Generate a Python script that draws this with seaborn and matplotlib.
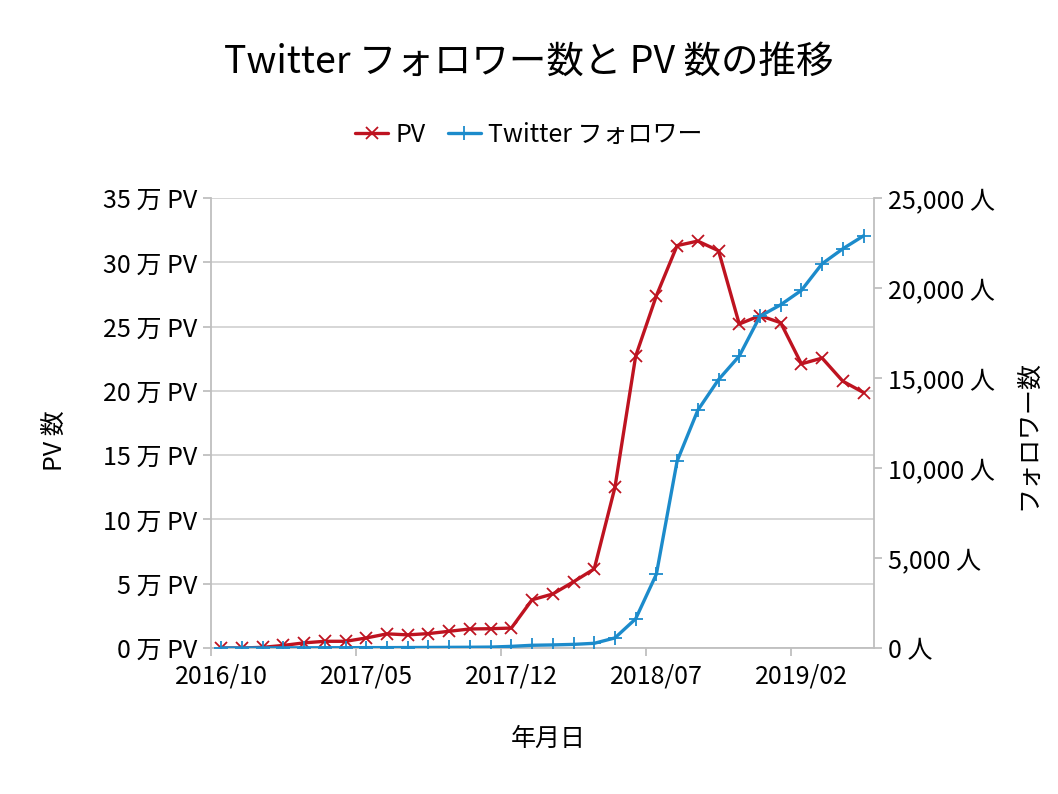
import matplotlib
matplotlib.use("Agg")
import matplotlib.pyplot as plt
import seaborn as sns
import numpy as np
from matplotlib.ticker import FixedLocator, FuncFormatter

sns.set_theme(style="white")
plt.rcParams['font.family'] = ['Noto Sans CJK JP', 'DejaVu Sans']
plt.rcParams['text.color'] = 'black'
plt.rcParams['axes.labelcolor'] = 'black'
plt.rcParams['xtick.color'] = 'black'
plt.rcParams['ytick.color'] = 'black'

# ---- data ----
months = ["2016/10", "2016/11", "2016/12", "2017/01", "2017/02", "2017/03", "2017/04",
          "2017/05", "2017/06", "2017/07", "2017/08", "2017/09", "2017/10", "2017/11",
          "2017/12", "2018/01", "2018/02", "2018/03", "2018/04", "2018/05", "2018/06",
          "2018/07", "2018/08", "2018/09", "2018/10", "2018/11", "2018/12", "2019/01",
          "2019/02", "2019/03", "2019/04", "2019/05"]
pv_man = [0.0, 0.0, 0.05, 0.2, 0.4, 0.52, 0.52, 0.78, 1.1, 1.02, 1.12, 1.3, 1.48, 1.5,
          1.55, 3.75, 4.2, 5.15, 6.15, 12.5, 22.7, 27.4, 31.3, 31.65, 30.9, 25.2,
          25.85, 25.3, 22.1, 22.55, 20.75, 19.87]
followers = [0, 0, 5, 10, 10, 15, 15, 20, 20, 25, 30, 35, 40, 50,
             90, 150, 170, 200, 260, 560, 1620, 4100, 10380, 13210, 14910, 16220,
             18430, 19070, 19870, 21350, 22180, 22900]
x_tick_labels = ["2016/10", "2017/05", "2017/12", "2018/07", "2019/02"]
left_ticks = [0, 5, 10, 15, 20, 25, 30, 35]
right_ticks = [0, 5000, 10000, 15000, 20000, 25000]

red = "#BE1320"
blue = "#1C8BCB"
grid_c = "#D0D0D0"
axis_c = "#BFBFBF"
fs = 18

fig = plt.figure(figsize=(10.58, 7.94), dpi=100)
ax = fig.add_axes([0.1994, 0.1839, 0.8260 - 0.1994, 0.7506 - 0.1839])
ax2 = ax.twinx()

idx = np.arange(len(months))
sns.lineplot(x=idx, y=pv_man, ax=ax, color=red, linewidth=2.4, marker="x",
             markersize=9, markeredgewidth=1.3, markeredgecolor=red, label="PV", legend=False)
sns.lineplot(x=idx, y=followers, ax=ax2, color=blue, linewidth=2.4, marker="+",
             markersize=10, markeredgewidth=1.3, markeredgecolor=blue, label="Twitter フォロワー",
             legend=False)

ax.set_xlim(-0.5, len(months) - 0.5)
ax.set_ylim(0, 35)
ax2.set_ylim(0, 25000)

ax.yaxis.set_major_locator(FixedLocator(left_ticks))
ax.yaxis.set_major_formatter(FuncFormatter(lambda v, p: f"{int(v)} 万 PV"))
ax2.yaxis.set_major_locator(FixedLocator(right_ticks))
ax2.yaxis.set_major_formatter(FuncFormatter(lambda v, p: f"{int(v):,} 人"))

label_pos = [months.index(m) for m in x_tick_labels]
ax.set_xticks(label_pos)
ax.set_xticklabels(x_tick_labels)
ax.set_xticks([p + 6.5 for p in label_pos[:-1]] + [-0.5], minor=True)

ax.grid(axis="y", color=grid_c, linewidth=1.2)
ax.set_axisbelow(True)
for a in (ax, ax2):
    a.spines["top"].set_visible(False)
    for s in ("left", "right", "bottom"):
        a.spines[s].set_color(axis_c)
        a.spines[s].set_linewidth(1.3)
ax.spines["right"].set_visible(False)
ax2.spines["left"].set_visible(False)
ax2.spines["bottom"].set_visible(False)

ax.tick_params(axis="x", which="major", length=0, pad=11, labelsize=fs, labelcolor="black")
ax.tick_params(axis="x", which="minor", length=6, width=1.3, color=axis_c, direction="out")
ax.tick_params(axis="y", length=6, width=1.3, color=axis_c, labelsize=fs, pad=4, labelcolor="black", left=True)
ax2.tick_params(axis="y", length=6, width=1.3, color=axis_c, labelsize=fs, pad=4, labelcolor="black", right=True)
ax.xaxis.set_tick_params(bottom=True, which="both")

ax.set_xlabel("")
ax.set_ylabel("")
ax2.set_ylabel("")

fig.text(0.5, 0.922, "Twitter フォロワー数と PV 数の推移", ha="center", va="center", fontsize=27)
fig.text(0.518, 0.070, "年月日", ha="center", va="center", fontsize=fs)
fig.text(0.052, 0.445, "PV 数", ha="center", va="center", rotation=90, fontsize=fs)
fig.text(0.9716, 0.452, "フォロワー数", ha="center", va="center", rotation=90, fontsize=fs)

h1, l1 = ax.get_legend_handles_labels()
h2, l2 = ax2.get_legend_handles_labels()
fig.legend(h1 + h2, l1 + l2, loc="center", bbox_to_anchor=(0.5, 0.830), ncol=2,
           frameon=False, fontsize=fs, handlelength=1.3, handletextpad=0.3, columnspacing=0.9)

fig.savefig("out.png", dpi=100, facecolor="white")
